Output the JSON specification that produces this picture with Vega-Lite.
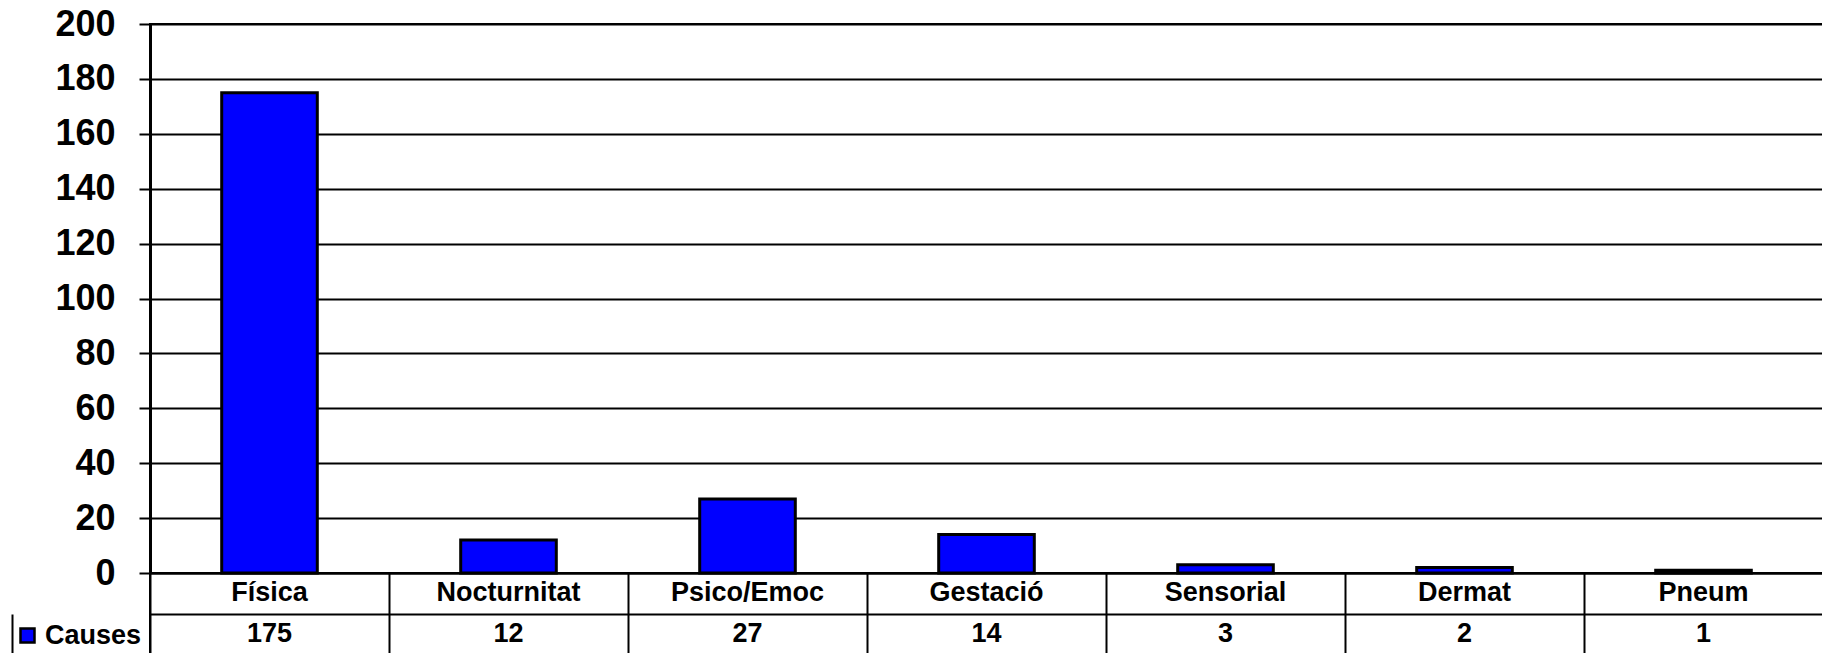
{
  "$schema": "https://vega.github.io/schema/vega-lite/v6.json",
  "padding": {"left": 10, "top": 5, "right": 1, "bottom": 0},
  "background": "white",
  "bounds": "flush",
  "spacing": 0,
  "config": {
    "font": "Liberation Sans",
    "view": {"stroke": "black", "strokeWidth": 2}
  },
  "datasets": {
    "d": [
      {"cat": "Física", "n": 175, "series": "Causes"},
      {"cat": "Nocturnitat", "n": 12, "series": "Causes"},
      {"cat": "Psico/Emoc", "n": 27, "series": "Causes"},
      {"cat": "Gestació", "n": 14, "series": "Causes"},
      {"cat": "Sensorial", "n": 3, "series": "Causes"},
      {"cat": "Dermat", "n": 2, "series": "Causes"},
      {"cat": "Pneum", "n": 1, "series": "Causes"}
    ]
  },
  "vconcat": [
    {
      "width": 1673,
      "height": 549,
      "data": {"name": "d"},
      "mark": {"type": "bar", "fill": "#0000FF", "stroke": "black", "strokeWidth": 3},
      "encoding": {
        "x": {"field": "cat", "type": "nominal", "sort": null,
              "scale": {"paddingInner": 0.6, "paddingOuter": 0.3}, "axis": null},
        "y": {"field": "n", "type": "quantitative",
              "scale": {"domain": [0, 200], "nice": false},
              "axis": {"values": [0, 20, 40, 60, 80, 100, 120, 140, 160, 180, 200],
                       "title": null, "grid": true, "gridColor": "black", "gridWidth": 2, "gridOpacity": 1,
                       "labelFontSize": 36, "labelFontWeight": "bold", "labelColor": "black",
                       "labelPadding": 24, "tickSize": 11, "tickWidth": 2, "tickColor": "black",
                       "domainColor": "black", "domainWidth": 3,
                       "minExtent": 138, "maxExtent": 138}}
      }
    },
    {
      "width": 1673,
      "height": 81,
      "data": {"name": "d"},
      "encoding": {
        "x": {"field": "cat", "type": "nominal", "sort": null,
              "scale": {"paddingInner": 0, "paddingOuter": 0},
              "axis": {"title": null, "labels": false, "ticks": false, "domain": false,
                       "grid": true, "gridColor": "black", "gridWidth": 2, "gridOpacity": 1,
                       "tickBand": "extent", "minExtent": 0, "maxExtent": 0}}
      },
      "resolve": {"scale": {"y": "independent"}, "axis": {"y": "independent"}},
      "layer": [
        {
          "mark": {"type": "text", "fontSize": 27, "fontWeight": "bold", "color": "black"},
          "encoding": {
            "y": {"datum": "r1", "type": "nominal",
                  "scale": {"type": "band", "domain": ["r1", "r2"], "paddingInner": 0, "paddingOuter": 0},
                  "axis": {"title": null, "labels": false, "domain": false,
                           "grid": true, "gridColor": "black", "gridWidth": 2, "gridOpacity": 1,
                           "tickBand": "extent", "tickColor": "black", "tickWidth": 2,
                           "tickSize": {"condition": {"test": "datum.value === 'r2'", "value": 138}, "value": 0},
                           "minExtent": 138, "maxExtent": 138}},
            "text": {"field": "cat"}
          }
        },
        {
          "mark": {"type": "text", "fontSize": 27, "fontWeight": "bold", "color": "black"},
          "encoding": {
            "y": {"datum": "r2", "type": "nominal",
                  "scale": {"type": "band", "domain": ["r1", "r2"], "paddingInner": 0, "paddingOuter": 0},
                  "axis": null},
            "text": {"field": "n"}
          }
        },
        {
          "mark": {"type": "point", "shape": "square", "filled": true, "opacity": 0},
          "encoding": {
            "y": {"datum": "r2", "type": "nominal",
                  "scale": {"type": "band", "domain": ["r1", "r2"], "paddingInner": 0, "paddingOuter": 0},
                  "axis": {"orient": "left", "offset": 138, "title": null, "labels": false, "ticks": false,
                           "grid": false, "domain": true, "domainColor": "black", "domainWidth": 2,
                           "domainDash": [0, 41, 100], "minExtent": 0, "maxExtent": 0}},
            "color": {"field": "series", "type": "nominal",
                      "scale": {"range": ["#0000FF"]},
                      "legend": {"orient": "none", "legendX": -136, "legendY": 598, "title": null,
                                 "padding": 0, "symbolType": "square", "symbolSize": 196,
                                 "symbolOpacity": 1, "symbolFillColor": "#0000FF",
                                 "symbolStrokeColor": "black", "symbolStrokeWidth": 2.5,
                                 "symbolOffset": 0, "labelOffset": 4,
                                 "labelFontSize": 27, "labelFontWeight": "bold", "labelColor": "black"}}
          }
        }
      ]
    }
  ]
}
